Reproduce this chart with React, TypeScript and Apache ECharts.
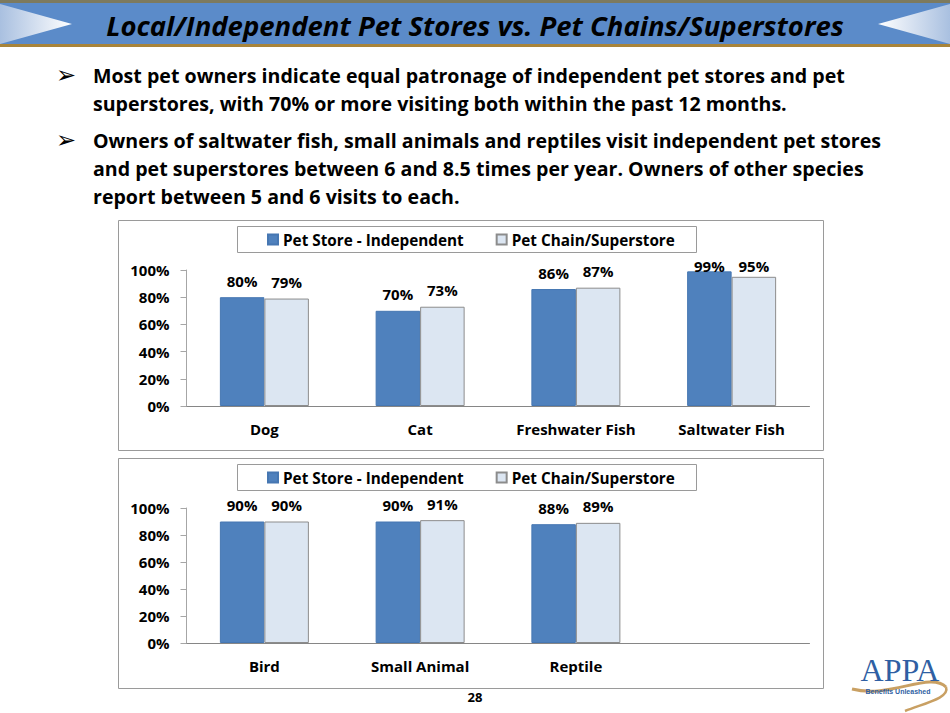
import React, { useEffect, useRef } from "react";
import * as echarts from "echarts";

const titleText = "Local/Independent Pet Stores vs. Pet Chains/Superstores";
const bulletLines = [
  ["Most pet owners indicate equal patronage of independent pet stores and pet",
   "superstores, with 70% or more visiting both within the past 12 months."],
  ["Owners of saltwater fish, small animals and reptiles visit independent pet stores",
   "and pet superstores between 6 and 8.5 times per year. Owners of other species",
   "report between 5 and 6 visits to each."],
];
const seriesNames = ["Pet Store - Independent", "Pet Chain/Superstore"];
const categories1 = ["Dog", "Cat", "Freshwater Fish", "Saltwater Fish"];
const independent1 = [80, 70, 86, 99];
const chain1 = [79, 73, 87, 95];
const categories2 = ["Bird", "Small Animal", "Reptile", ""];
const independent2 = [90, 90, 88];
const chain2 = [90, 91, 89];
const yTicks = [0, 20, 40, 60, 80, 100];
const pageNumber = "28";

const FONT = "'Open Sans', Lato, sans-serif";
const BLUE = "#4F81BD";
const LIGHT = "#DCE6F2";

export default function App() {
  const ref = useRef<HTMLDivElement>(null);
  useEffect(() => {
    if (!ref.current) return;
    const chart = echarts.init(ref.current, undefined, { renderer: "svg" });

    const grids = [
      { left: 186.5, top: 270, width: 623, height: 136 },
      { left: 186.5, top: 508, width: 623, height: 135 },
    ];

    // Excel-like label clamping: labels never rise far above the plot top
    const labelData = (vals: number[], g: { top: number; height: number }) =>
      vals.map((v) => {
        const barTop = g.top + g.height * (1 - v / 100);
        const centre = Math.max(g.top - 5, barTop - 17);
        const distance = barTop - centre - 8;
        return { value: v, label: { distance } };
      });

    const labelStyle = {
      show: true,
      position: "top" as const,
      formatter: "{c}%",
      fontFamily: FONT,
      fontWeight: "bold" as const,
      fontSize: 15,
      color: "#000",
    };

    const mkXAxis = (cats: string[], gi: number) => ({
      type: "category" as const,
      gridIndex: gi,
      data: cats,
      axisLine: { show: true, lineStyle: { color: "#868686", width: 1 } },
      axisTick: { show: false },
      axisLabel: {
        fontFamily: FONT,
        fontWeight: "bold" as const,
        fontSize: 15,
        color: "#000",
        margin: 15,
        interval: 0,
      },
    });
    const mkYAxis = (gi: number) => ({
      type: "value" as const,
      gridIndex: gi,
      min: yTicks[0],
      max: yTicks[yTicks.length - 1],
      interval: yTicks[1] - yTicks[0],
      axisLine: { show: true, lineStyle: { color: "#A6A6A6", width: 1 } },
      axisTick: { show: true, length: 6, lineStyle: { color: "#A6A6A6" } },
      splitLine: { show: false },
      axisLabel: {
        formatter: "{value}%",
        fontFamily: FONT,
        fontWeight: "bold" as const,
        fontSize: 15,
        color: "#000",
        margin: 17,
      },
    });

    const mkSeries = (name: string, vals: number[], gi: number, light: boolean) => ({
      type: "bar" as const,
      name,
      xAxisIndex: gi,
      yAxisIndex: gi,
      data: labelData(vals, grids[gi]),
      barWidth: 44.5,
      barGap: "0%",
      itemStyle: light
        ? { color: LIGHT, borderColor: "#8C8C8C", borderWidth: 1 }
        : { color: BLUE, borderColor: "#4677B2", borderWidth: 1 },
      label: labelStyle,
    });

    const mkLegend = (top: number) => ({
      data: seriesNames,
      left: 267,
      top,
      orient: "horizontal" as const,
      icon: "rect",
      itemWidth: 10,
      itemHeight: 10,
      itemGap: 32,
      padding: 0,
      selectedMode: false,
      textStyle: {
        fontFamily: FONT,
        fontWeight: "bold" as const,
        fontSize: 15.3,
        color: "#000",
      },
    });

    const graphics: any[] = [];
    // Title banner
    graphics.push({ type: "rect", shape: { x: 0, y: 0, width: 950, height: 3 }, style: { fill: "#7D7A5E" }, silent: true });
    graphics.push({ type: "rect", shape: { x: 0, y: 3, width: 950, height: 42 }, style: { fill: "#5B8BC9" }, silent: true });
    graphics.push({ type: "rect", shape: { x: 0, y: 44, width: 950, height: 3 }, style: { fill: "#A8843A" }, silent: true });
    graphics.push({
      type: "polygon",
      shape: { points: [[0, 4], [72, 24], [0, 44]] },
      style: {
        fill: new echarts.graphic.LinearGradient(0, 0, 1, 0, [
          { offset: 0, color: "#A9C0E0" },
          { offset: 1, color: "#FFFFFF" },
        ]),
      },
      silent: true,
    });
    graphics.push({
      type: "polygon",
      shape: { points: [[950, 4], [878, 24], [950, 44]] },
      style: {
        fill: new echarts.graphic.LinearGradient(1, 0, 0, 0, [
          { offset: 0, color: "#A9C0E0" },
          { offset: 1, color: "#FFFFFF" },
        ]),
      },
      silent: true,
    });
    graphics.push({
      type: "text",
      x: 475,
      y: 25,
      style: {
        text: titleText,
        fontFamily: FONT,
        fontWeight: "bold",
        fontStyle: "italic",
        fontSize: 27.5,
        fill: "#000",
        textAlign: "center",
        textVerticalAlign: "middle",
      },
      silent: true,
    });

    // Bullets
    const bulletY = [[75, 103], [140, 168, 196]];
    bulletLines.forEach((lines, bi) => {
      graphics.push({
        type: "text",
        x: 56,
        y: bulletY[bi][0],
        style: { text: "➢", fontFamily: "DejaVu Sans", fontSize: 24, fill: "#000", textVerticalAlign: "middle" },
        silent: true,
      });
      lines.forEach((ln, li) => {
        graphics.push({
          type: "text",
          x: 93,
          y: bulletY[bi][li],
          style: {
            text: ln,
            fontFamily: FONT,
            fontWeight: "bold",
            fontSize: 19.6,
            fill: "#000",
            textVerticalAlign: "middle",
          },
          silent: true,
        });
      });
    });

    // Chart frames and legend boxes
    [220, 458].forEach((y) => {
      graphics.push({ type: "rect", shape: { x: 118.5, y: y + 0.5, width: 705, height: 230 }, style: { fill: "none", stroke: "#9A9A9A", lineWidth: 1 }, z: -1, silent: true });
      graphics.push({ type: "rect", shape: { x: 237.5, y: y + 6.5, width: 459, height: 26 }, style: { fill: "none", stroke: "#9A9A9A", lineWidth: 1 }, z: -1, silent: true });
    });

    // Page number
    graphics.push({
      type: "text",
      x: 475,
      y: 697,
      style: { text: pageNumber, fontFamily: FONT, fontWeight: "bold", fontSize: 13, fill: "#000", textAlign: "center", textVerticalAlign: "middle" },
      silent: true,
    });

    // APPA logo
    graphics.push({
      type: "bezierCurve",
      shape: { x1: 852, y1: 689, x2: 946, y2: 687, cpx1: 890, cpy1: 699, cpx2: 930, cpy2: 671 },
      style: { stroke: "#C9A063", lineWidth: 3, fill: "none" },
      silent: true,
    });
    graphics.push({
      type: "bezierCurve",
      shape: { x1: 946, y1: 687, x2: 905, y2: 711, cpx1: 950, cpy1: 698, cpx2: 925, cpy2: 703 },
      style: { stroke: "#C9A063", lineWidth: 2.5, fill: "none" },
      silent: true,
    });
    graphics.push({
      type: "text",
      x: 900,
      y: 670,
      style: { text: "APPA", fontFamily: "'Liberation Serif', serif", fontSize: 32, fill: "#2F5FA3", textAlign: "center", textVerticalAlign: "middle" },
      silent: true,
    });
    graphics.push({
      type: "text",
      x: 898,
      y: 691.5,
      style: { text: "Benefits Unleashed", fontFamily: "'Liberation Sans', sans-serif", fontWeight: "bold", fontSize: 7, fill: "#2F5FA3", textAlign: "center", textVerticalAlign: "middle" },
      silent: true,
    });

    chart.setOption({
      animation: false,
      backgroundColor: "#fff",
      grid: grids.map((g) => ({ ...g, containLabel: false })),
      legend: [mkLegend(232), mkLegend(470)],
      xAxis: [mkXAxis(categories1, 0), mkXAxis(categories2, 1)],
      yAxis: [mkYAxis(0), mkYAxis(1)],
      series: [
        mkSeries(seriesNames[0], independent1, 0, false),
        mkSeries(seriesNames[1], chain1, 0, true),
        mkSeries(seriesNames[0], independent2, 1, false),
        mkSeries(seriesNames[1], chain2, 1, true),
      ],
      graphic: graphics,
    });
    return () => chart.dispose();
  }, []);

  return (
    <div
      ref={ref}
      style={{ position: "fixed", left: 0, top: 0, width: 950, height: 713 }}
    />
  );
}
